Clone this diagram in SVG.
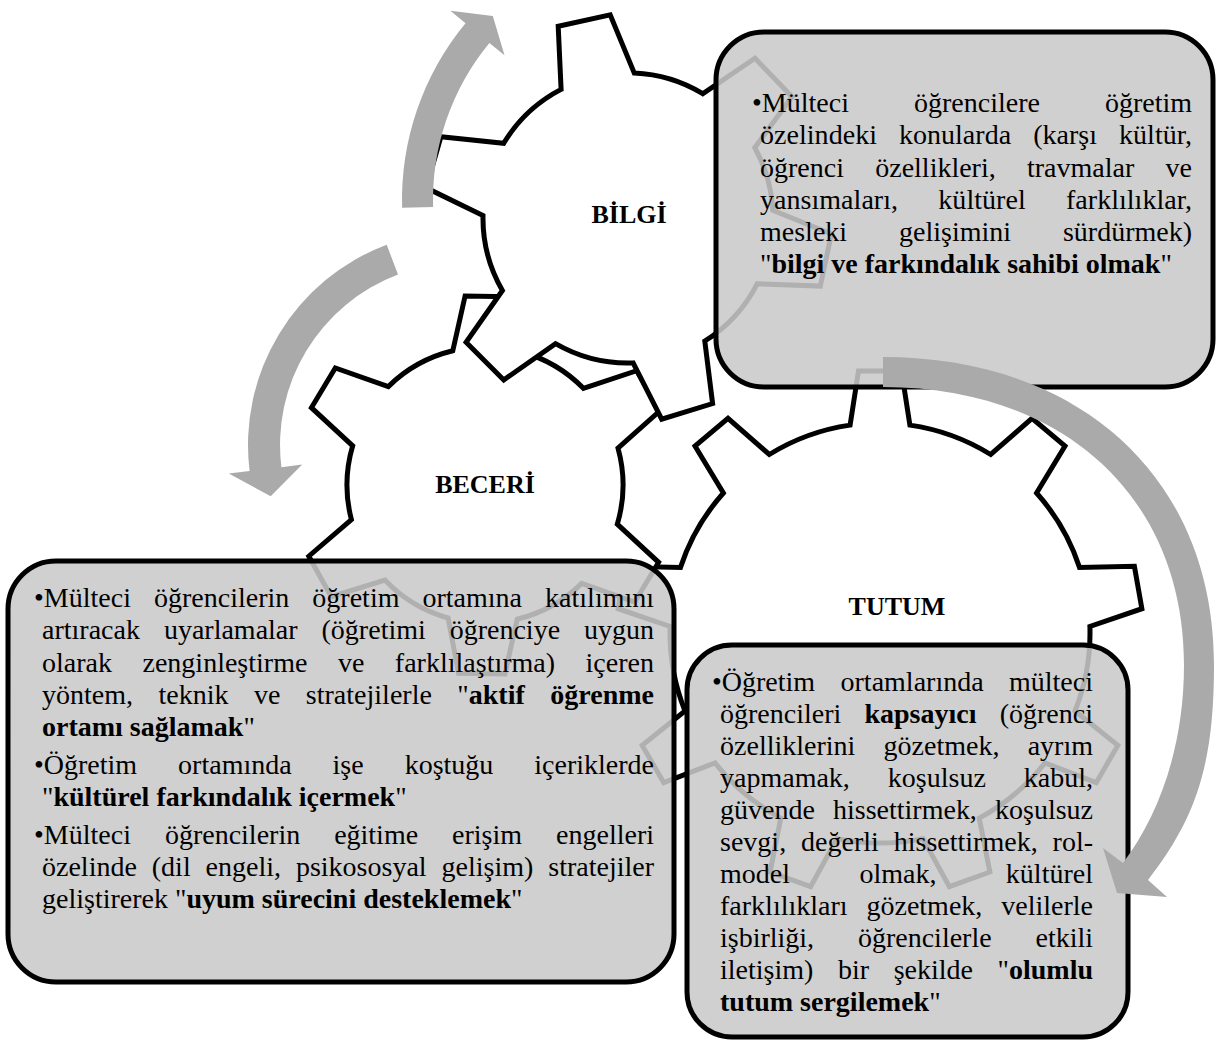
<svg xmlns="http://www.w3.org/2000/svg" width="1223" height="1044" viewBox="0 0 1223 1044">
<style>
.gear{fill:#fff;stroke:#000;stroke-width:5;stroke-linejoin:miter}
.box{fill:#c9c9c9;fill-opacity:0.875;stroke:#000;stroke-width:5}
.arrow{fill:#aaaaaa;stroke:none}
.t{font-family:"Liberation Serif","Times New Roman",serif;font-size:28px;fill:#000}
.b{font-weight:bold}
.lbl{font-family:"Liberation Serif","Times New Roman",serif;font-size:26px;font-weight:bold;text-anchor:middle;fill:#000}
</style>
<rect width="1223" height="1044" fill="#fff"/>
<g id="gear-tutum">
<path class="gear" d="M 723.4,493.0 L 695.0,446.1 L 728.0,418.4 L 769.3,454.5 A 210 210 0 0 1 850.1,425.1 L 858.5,370.9 L 901.5,370.9 L 909.9,425.1 A 210 210 0 0 1 990.7,454.5 L 1032.0,418.4 L 1065.0,446.1 L 1036.6,493.0 A 210 210 0 0 1 1079.5,567.4 L 1134.4,566.3 L 1141.9,608.7 L 1089.9,626.4 A 210 210 0 0 1 1075.0,711.0 L 1117.8,745.4 L 1096.2,782.7 L 1045.0,762.9 A 210 210 0 0 1 979.2,818.1 L 989.9,872.0 L 949.4,886.7 L 922.9,838.6 A 210 210 0 0 1 837.1,838.6 L 810.6,886.7 L 770.1,872.0 L 780.8,818.1 A 210 210 0 0 1 715.0,762.9 L 663.8,782.7 L 642.2,745.4 L 685.0,711.0 A 210 210 0 0 1 670.1,626.4 L 618.1,608.7 L 625.6,566.3 L 680.5,567.4 A 210 210 0 0 1 723.4,493.0 Z"/>
<text class="lbl" x="897" y="615">TUTUM</text>
</g>
<g id="gear-beceri">
<path class="gear" d="M 583.4,388.3 L 636.7,370.7 L 659.9,410.8 L 618.0,448.1 A 138 138 0 0 1 617.3,524.2 L 658.6,562.3 L 634.7,602.0 L 581.7,583.4 A 138 138 0 0 1 517.2,619.2 L 504.9,674.0 L 458.6,673.2 L 448.1,618.0 A 138 138 0 0 1 384.9,580.0 L 331.3,596.7 L 308.8,556.2 L 351.4,519.6 A 138 138 0 0 1 352.7,445.8 L 311.4,407.7 L 335.3,368.0 L 388.3,386.6 A 138 138 0 0 1 452.8,350.8 L 465.1,296.0 L 511.4,296.8 L 521.9,352.0 A 138 138 0 0 1 583.4,388.3 Z"/>
<text class="lbl" x="485" y="493">BECERİ</text>
</g>
<g id="gear-bilgi">
<path class="gear" d="M 561.1,89.4 L 558.2,26.3 L 610.2,14.8 L 634.3,73.1 A 145 145 0 0 1 702.7,93.7 L 755.0,58.3 L 792.0,96.7 L 754.8,147.7 A 145 145 0 0 1 772.8,210.4 L 831.4,234.0 L 820.3,286.1 L 757.2,283.8 A 145 145 0 0 1 704.8,341.0 L 712.6,403.6 L 661.7,419.2 L 633.1,362.9 A 145 145 0 0 1 555.5,343.6 L 503.8,379.9 L 466.1,342.2 L 502.4,290.5 A 145 145 0 0 1 483.0,215.5 L 426.2,187.8 L 440.9,136.7 L 503.7,143.3 A 145 145 0 0 1 561.1,89.4 Z"/>
<text class="lbl" x="629" y="223">BİLGİ</text>
</g>
<g id="box-bilgi">
<rect class="box" x="716" y="32" width="497" height="355" rx="48"/>
<text class="t" x="752" y="112" word-spacing="58" textLength="440">•Mülteci öğrencilere öğretim</text>
<text class="t" x="760" y="144" word-spacing="14.9" textLength="432">özelindeki konularda (karşı kültür,</text>
<text class="t" x="760" y="177" word-spacing="24.3" textLength="432">öğrenci özellikleri, travmalar ve</text>
<text class="t" x="760" y="209" word-spacing="33.2" textLength="432">yansımaları, kültürel farklılıklar,</text>
<text class="t" x="760" y="241" word-spacing="44.9" textLength="432">mesleki gelişimini sürdürmek)</text>
<text class="t" x="760" y="273">"<tspan class="b">bilgi ve farkındalık sahibi olmak</tspan>"</text>
</g>
<g id="box-beceri">
<rect class="box" x="8" y="561" width="666" height="421" rx="48"/>
<text class="t" x="34" y="607" word-spacing="16.05" textLength="620">•Mülteci öğrencilerin öğretim ortamına katılımını</text>
<text class="t" x="42" y="639" word-spacing="16.9" textLength="612">artıracak uyarlamalar (öğretimi öğrenciye uygun</text>
<text class="t" x="42" y="672" word-spacing="23.5" textLength="612">olarak zenginleştirme ve farklılaştırma) içeren</text>
<text class="t" x="42" y="704" word-spacing="18.4" textLength="612">yöntem, teknik ve stratejilerle "<tspan class="b">aktif öğrenme</tspan></text>
<text class="t" x="42" y="736"><tspan class="b">ortamı sağlamak</tspan>"</text>
<text class="t" x="34" y="774" word-spacing="33.95" textLength="620">•Öğretim ortamında işe koştuğu içeriklerde</text>
<text class="t" x="42" y="806">"<tspan class="b">kültürel farkındalık içermek</tspan>"</text>
<text class="t" x="34" y="844" word-spacing="26.95" textLength="620">•Mülteci öğrencilerin eğitime erişim engelleri</text>
<text class="t" x="42" y="876" word-spacing="7.9" textLength="612">özelinde (dil engeli, psikososyal gelişim) stratejiler</text>
<text class="t" x="42" y="908">geliştirerek "<tspan class="b">uyum sürecini desteklemek</tspan>"</text>
</g>
<g id="box-tutum">
<rect class="box" x="687" y="645" width="441" height="392" rx="45"/>
<text class="t" x="712" y="691" word-spacing="18.4" textLength="381">•Öğretim ortamlarında mülteci</text>
<text class="t" x="720" y="723" word-spacing="16.2" textLength="373">öğrencileri <tspan class="b">kapsayıcı</tspan> (öğrenci</text>
<text class="t" x="720" y="755" word-spacing="21.2" textLength="373">özelliklerini gözetmek, ayrım</text>
<text class="t" x="720" y="787" word-spacing="31" textLength="373">yapmamak, koşulsuz kabul,</text>
<text class="t" x="720" y="819" word-spacing="11.1" textLength="373">güvende hissettirmek, koşulsuz</text>
<text class="t" x="720" y="851" word-spacing="7.9" textLength="373">sevgi, değerli hissettirmek, rol-</text>
<text class="t" x="720" y="883" word-spacing="62.4" textLength="373">model olmak, kültürel</text>
<text class="t" x="720" y="915" word-spacing="11.9" textLength="373">farklılıkları gözetmek, velilerle</text>
<text class="t" x="720" y="947" word-spacing="36.8" textLength="373">işbirliği, öğrencilerle etkili</text>
<text class="t" x="720" y="979" word-spacing="17.6" textLength="373">iletişim) bir şekilde "<tspan class="b">olumlu</tspan></text>
<text class="t" x="720" y="1011"><tspan class="b">tutum sergilemek</tspan>"</text>
</g>
<g id="connectors">
<path id="arrow-bilgi" class="arrow" d="M 402.1,207.8 A 278 278 0 0 1 465.5,23.2 L 450.4,10.8 L 492.8,16.0 L 504.5,55.3 L 489.4,42.9 A 247 247 0 0 0 433.1,206.9 Z"/>
<path id="arrow-beceri" class="arrow" d="M 386.7,244.7 A 214 214 0 0 0 249.6,471.1 L 228.8,473.6 L 270.7,496.2 L 302.2,464.6 L 281.4,467.2 A 182 182 0 0 1 398.0,274.6 Z"/>
<path id="arrow-tutum" class="arrow" d="M 883,357 C 1080,357 1214,478 1214,665 C 1214,765 1196,818 1148,880 L 1167,897 L 1117,893 L 1103,848 L 1123,863 C 1160,814 1184,745 1184,665 C 1184,496 1062,387 883,387 Z"/>
</g>
</svg>
